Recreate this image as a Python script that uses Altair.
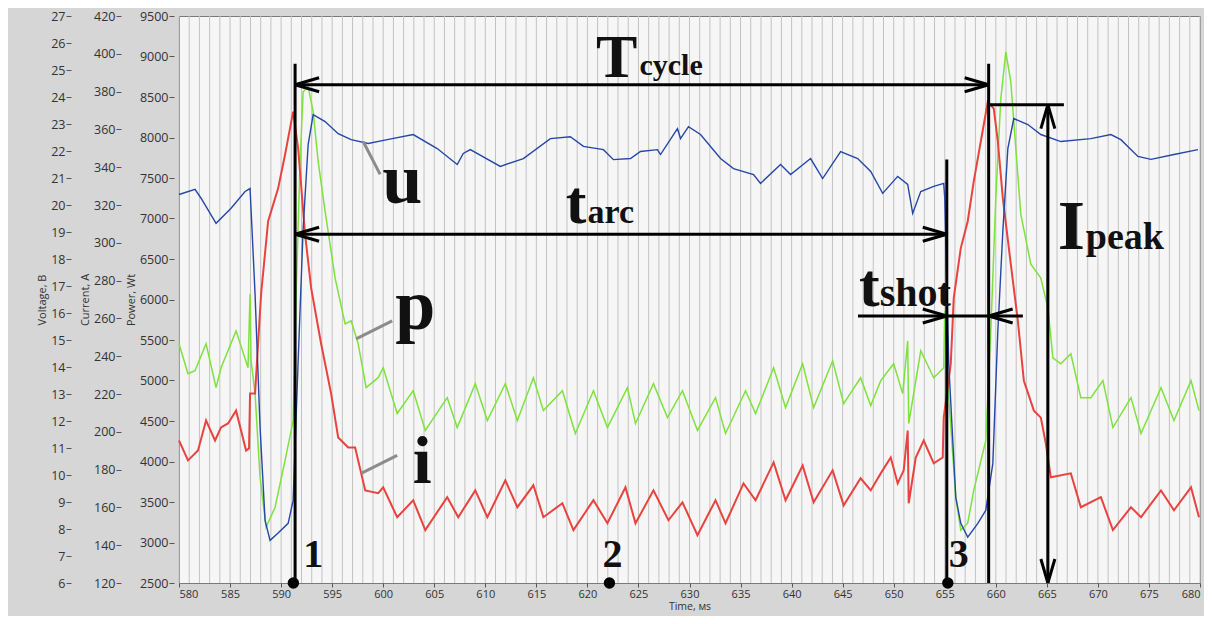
import altair as alt
import pandas as pd

# ---------------- series ----------------
u_t = [580.0, 581.57, 582.16, 583.63, 585.10, 586.47, 586.96, 587.45, 587.94, 588.43, 588.92, 589.71,
       590.69, 591.18, 591.67, 592.16, 592.65, 593.14, 594.31, 595.59, 596.86, 598.53, 600.39, 602.94,
       605.29, 607.25, 607.84, 608.53, 611.47, 613.73, 616.37, 618.33, 619.61, 621.57, 622.55, 624.22,
       625.2, 626.86, 627.16, 628.82, 629.12, 629.90, 631.08, 633.04, 634.31, 636.27, 636.96, 638.92,
       639.90, 641.86, 643.04, 644.80, 646.47, 647.75, 648.92, 650.39, 651.37, 651.86, 652.65, 653.92,
       654.90, 655.0, 655.39, 656.08, 656.57, 657.25, 658.24, 659.02, 659.71, 660.20, 660.69, 661.18,
       661.76, 663.14, 664.41, 666.37, 669.31, 671.27, 672.25, 673.92, 675.2, 677.45, 679.8]
u_v = [20.39, 20.58, 20.25, 19.32, 19.88, 20.50, 20.61, 16.70, 11.76, 8.32, 7.58, 7.85,
       8.21, 9.06, 14.23, 19.14, 22.24, 23.35, 23.09, 22.64, 22.42, 22.28, 22.42, 22.61,
       22.09, 21.50, 21.91, 22.05, 21.43, 21.72, 22.46, 22.53, 22.17, 22.05, 21.68, 21.72,
       21.98, 22.05, 21.87, 22.83, 22.46, 22.90, 22.61, 21.72, 21.35, 21.13, 20.80, 21.50,
       21.13, 21.72, 20.98, 21.98, 21.72, 21.24, 20.43, 21.06, 20.76, 19.69, 20.50, 20.69,
       20.80, 20.25, 14.12, 9.17, 8.21, 7.70, 8.21, 8.69, 10.43, 15.34, 19.03, 22.09,
       23.20, 22.98, 22.61, 22.35, 22.46, 22.61, 22.42, 21.80, 21.69, 21.87, 22.05]

i_t = [580.0, 580.88, 581.86, 582.65, 583.53, 584.12, 584.8, 585.59, 586.57, 586.86, 586.96, 587.45,
       588.04, 588.73, 589.71, 590.39, 591.18, 591.67, 592.35, 592.94, 593.92, 594.9, 595.59, 596.57,
       597.25, 598.24, 599.51, 600.0, 601.37, 602.94, 604.12, 606.27, 607.35, 609.02, 610.2, 611.96,
       613.14, 614.71, 615.69, 617.55, 618.63, 620.59, 621.96, 623.73, 624.71, 626.47, 627.94, 629.31,
       630.78, 632.55, 633.53, 635.29, 636.47, 638.24, 639.41, 641.08, 642.16, 644.02, 645.1, 646.76,
       647.75, 648.73, 649.71, 650.39, 650.98, 651.37, 651.47, 652.16, 652.94, 653.92, 654.8, 654.9,
       655.59, 655.88, 656.57, 657.25, 657.84, 658.53, 659.22, 659.8, 660.2, 660.69, 661.47, 662.16,
       662.75, 663.73, 664.41, 664.9, 665.39, 667.35, 668.33, 670.29, 671.47, 673.24, 674.22, 676.18,
       677.45, 679.12, 679.9]
i_a = [195.4, 184.9, 190.1, 206.0, 195.4, 202.3, 204.4, 211.2, 190.1, 191.2, 220.2, 220.2,
       272.9, 311.4, 328.8, 346.7, 369.4, 349.9, 304.5, 276.1, 246.6, 220.2, 197.0, 191.7,
       191.7, 169.0, 167.5, 170.6, 154.8, 163.8, 148.0, 165.4, 154.8, 169.0, 154.8, 174.3,
       160.1, 171.7, 154.8, 162.2, 148.0, 163.8, 151.6, 170.6, 151.6, 169.0, 153.2, 162.7,
       145.3, 163.8, 151.6, 172.7, 163.8, 183.8, 163.8, 182.2, 162.7, 179.6, 161.1, 175.4,
       169.0, 178.0, 186.4, 172.7, 179.6, 200.7, 162.2, 186.4, 195.4, 183.3, 186.4, 207.5,
       236.0, 270.8, 297.2, 311.4, 332.5, 353.6, 374.7, 371.0, 353.6, 323.5, 288.7, 258.7,
       227.0, 211.2, 207.5, 193.8, 175.9, 178.0, 160.1, 165.4, 148.0, 160.1, 154.8, 169.0,
       158.5, 170.6, 154.8]

p_t = [580.0, 580.88, 581.57, 582.65, 583.63, 584.12, 585.59, 586.76, 586.96, 587.06, 587.45, 587.94,
       588.53, 589.41, 590.39, 591.18, 591.47, 591.86, 592.16, 592.65, 593.14, 593.63, 594.31, 595.29,
       596.27, 596.86, 597.55, 598.33, 599.51, 600.0, 601.37, 602.94, 604.12, 606.27, 607.25, 609.02,
       610.2, 611.96, 613.14, 614.71, 615.69, 617.55, 618.82, 620.59, 621.96, 623.92, 624.71, 626.47,
       627.84, 629.31, 630.78, 632.55, 633.53, 635.49, 636.47, 638.24, 639.41, 641.08, 642.16, 644.02,
       645.1, 646.76, 647.75, 648.73, 650.0, 650.88, 651.37, 651.47, 652.65, 653.92, 654.9, 655.0,
       655.39, 656.08, 656.57, 657.25, 657.84, 659.02, 659.51, 660.0, 660.49, 660.98, 661.47, 661.96,
       662.45, 663.43, 664.41, 665.1, 665.59, 666.37, 667.35, 668.33, 669.31, 670.49, 671.47, 673.24,
       674.22, 676.18, 677.45, 679.12, 679.9]
p_w = [5453, 5084, 5121, 5453, 4912, 5158, 5613, 5158, 6068, 5244, 4838, 3804,
       3189, 3435, 4013, 4505, 6068, 7704, 8565, 8627, 8319, 7704, 7089, 6265,
       5699, 5736, 5453, 4912, 5035, 5158, 4592, 4875, 4383, 4788, 4419, 4961,
       4505, 4961, 4505, 5034, 4628, 4874, 4346, 4874, 4419, 4911, 4469, 4961,
       4542, 4874, 4383, 4788, 4346, 4874, 4591, 5157, 4665, 5207, 4665, 5243,
       4715, 5034, 4690, 4998, 5207, 4838, 5490, 4469, 5367, 5034, 5157, 5859,
       4788, 3558, 3152, 3238, 3644, 4259, 5613, 7249, 8479, 9057, 8688, 7864,
       7052, 6437, 6265, 5896, 5281, 5207, 5330, 4788, 4788, 4998, 4419, 4788,
       4346, 4911, 4505, 4998, 4628]

# tick values / grid
x_ticks = list(range(580, 681, 5))
grid_t = list(range(580, 681))
w_ticks = list(range(2500, 9501, 500))
a_ticks = list(range(120, 421, 20))
v_ticks = list(range(6, 28))

# ---------------- annotations (data units: ms, W) ----------------
seg_t = [591.37, 655.2, 659.3, 665.1, 591.37, 591.37, 646.5, 659.3]
seg_t2 = [591.37, 655.2, 659.3, 665.1, 659.3, 655.2, 662.65, 666.67]
seg_w = [8910, 7729, 8910, 8405, 8651, 6806, 5797, 8405]
seg_w2 = [2500, 2500, 2500, 2500, 8651, 6806, 5797, 8405]

lead_t = [598.04, 597.35, 597.84]
lead_t2 = [599.7, 600.88, 601.37]
lead_w = [7950, 5514, 3853]
lead_w2 = [7544, 5736, 4075]

arrow_left_t = [591.37, 591.37, 659.3]
arrow_left_w = [8651, 6806, 5797]
arrow_right_t = [659.3, 655.2, 655.2]
arrow_right_w = [8651, 6806, 5797]
arrow_up_t = [665.1]
arrow_up_w = [8405]
arrow_down_t = [665.1]
arrow_down_w = [2500]

dot_t = [591.2, 622.16, 655.3]
dot_w = [2500, 2500, 2500]

txt = ["T", "cycle", "t", "arc", "t", "shot", "I", "peak", "u", "p", "i", "1", "2", "3"]
txt_t = [624.9, 625.1, 619.9, 620.0, 648.63, 648.63, 668.73, 668.82, 601.86, 603.14, 603.82, 593.14, 622.45, 656.37]
txt_w = [8750, 8774, 6941, 6941, 5920, 5920, 6621, 6621, 7187, 5637, 3730, 2697, 2697, 2697]
txt_size = [62, 30, 62, 34, 62, 40, 70, 38, 72, 72, 68, 40, 40, 40]
txt_align = ["right", "left", "right", "left", "right", "left", "right", "left",
             "center", "center", "center", "center", "center", "center"]

# ---------------- chart ----------------
XSC = alt.Scale(domain=[580, 680], nice=False, zero=False)
WSC = dict(domain=[2500, 9500], nice=False, zero=False)

x_enc = alt.X("t:Q", scale=XSC, axis=alt.Axis(
    values=x_ticks, title="Time, мs", grid=False, domain=False, tickSize=4, tickColor="#555",
    labelFontSize=11, labelPadding=1, titleFontSize=10.5, titlePadding=2,
    labelColor="#333", titleColor="#333", titleFontWeight="normal", labelFont="Open Sans", titleFont="Open Sans"))


def yaxis(title, values, offset):
    return alt.Axis(title=title, values=values, format="d", orient="left", offset=offset, grid=False,
                    domain=False, tickSize=5, tickColor="#555", labelFontSize=12.5, labelPadding=1,
                    labelColor="#333", titleFontSize=11, titlePadding=3, titleColor="#333",
                    titleFontWeight="normal", labelFont="Open Sans", titleFont="Open Sans")


def ann_y(field="W"):
    return alt.Y(f"{field}:Q", scale=alt.Scale(**WSC), axis=None)


grid = alt.Chart(pd.DataFrame({"t": grid_t})).mark_rule(color="#c2c2c2", strokeWidth=1).encode(
    x=alt.X("t:Q", scale=XSC))

p_df = pd.DataFrame({"t": p_t, "W": p_w})
green = alt.Chart(p_df).mark_line(color="#7ee23c", strokeWidth=1.5).encode(
    x=x_enc,
    y=alt.Y("W:Q", scale=alt.Scale(**WSC), axis=yaxis("Power, Wt", w_ticks, 5)))

i_df = pd.DataFrame({"t": i_t, "A": i_a})
red = alt.Chart(i_df).mark_line(color="#e8433f", strokeWidth=2).encode(
    x=alt.X("t:Q", scale=XSC),
    y=alt.Y("A:Q", scale=alt.Scale(domain=[120, 420], nice=False, zero=False),
            axis=yaxis("Current, A", a_ticks, 58)))

u_df = pd.DataFrame({"t": u_t, "V": u_v})
blue = alt.Chart(u_df).mark_line(color="#2447a8", strokeWidth=1.4).encode(
    x=alt.X("t:Q", scale=XSC),
    y=alt.Y("V:Q", scale=alt.Scale(domain=[6, 27], nice=False, zero=False),
            axis=yaxis("Voltage, B", v_ticks, 108)))

seg_df = pd.DataFrame({"t": seg_t, "t2": seg_t2, "W": seg_w, "W2": seg_w2})
segs = alt.Chart(seg_df).mark_rule(color="black", strokeWidth=3).encode(
    x=alt.X("t:Q", scale=XSC), x2="t2:Q", y=ann_y(), y2="W2:Q")

lead_df = pd.DataFrame({"t": lead_t, "t2": lead_t2, "W": lead_w, "W2": lead_w2})
leads = alt.Chart(lead_df).mark_rule(color="#8c8c8c", strokeWidth=3).encode(
    x=alt.X("t:Q", scale=XSC), x2="t2:Q", y=ann_y(), y2="W2:Q")


def arrows(ts, ws, shape):
    return alt.Chart(pd.DataFrame({"t": ts, "W": ws})).mark_point(
        shape=shape, filled=False, stroke="black", strokeWidth=3, size=400, opacity=1).encode(
        x=alt.X("t:Q", scale=XSC), y=ann_y())


a_left = arrows(arrow_left_t, arrow_left_w, "M0,0L2.4,-0.7M0,0L2.4,0.7")
a_right = arrows(arrow_right_t, arrow_right_w, "M0,0L-2.4,-0.7M0,0L-2.4,0.7")
a_up = arrows(arrow_up_t, arrow_up_w, "M0,0L-0.7,2.4M0,0L0.7,2.4")
a_down = arrows(arrow_down_t, arrow_down_w, "M0,0L-0.7,-2.4M0,0L0.7,-2.4")

dots = alt.Chart(pd.DataFrame({"t": dot_t, "W": dot_w})).mark_point(
    shape="circle", filled=True, color="black", size=130, opacity=1).encode(
    x=alt.X("t:Q", scale=XSC), y=ann_y())

txt_df = pd.DataFrame({"label": txt, "t": txt_t, "W": txt_w, "size": txt_size, "align": txt_align})
texts = []
for al in ["left", "right", "center"]:
    texts.append(
        alt.Chart(txt_df).transform_filter(alt.datum.align == al).mark_text(
            font="Liberation Serif", fontWeight="bold", baseline="alphabetic", align=al, color="#111").encode(
            x=alt.X("t:Q", scale=XSC), y=ann_y(), text="label:N",
            size=alt.Size("size:Q", scale=None, legend=None)))

chart = alt.layer(grid, green, red, blue, segs, leads, a_left, a_right, a_up, a_down, dots, *texts).resolve_scale(
    y="independent").properties(
    width=1021, height=567,
    autosize=alt.AutoSizeParams(type="none"),
    padding={"left": 171, "top": 8, "right": 4, "bottom": 33},
    background="#d6d6d6",
).configure_view(fill="#f6f6f6", stroke="#7a7a7a", strokeWidth=1)

chart.save("out.html", embed_options={"renderer": "svg", "actions": False})
